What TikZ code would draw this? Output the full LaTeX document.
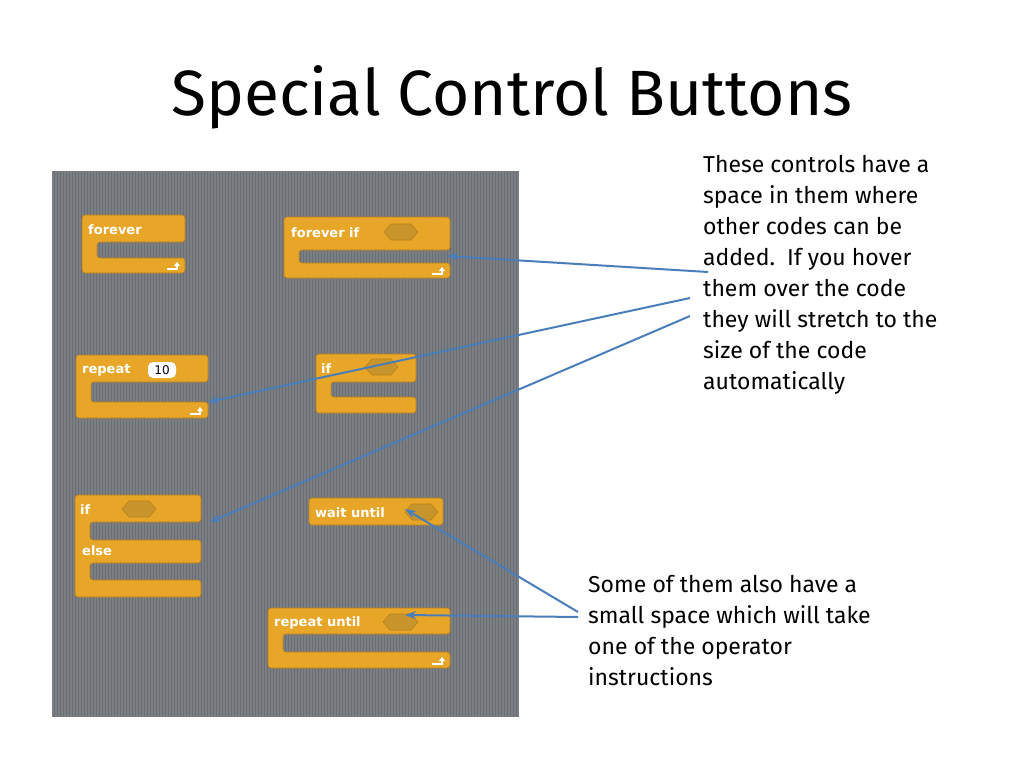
\documentclass[tikz,border=0pt]{standalone}
\usepackage{fontspec}
\setmainfont{Fira Sans}
\newfontfamily\blkfont{DejaVu Sans}
\usetikzlibrary{arrows.meta}
\definecolor{blk}{HTML}{E8A628}
\definecolor{blkd}{HTML}{B8801C}
\definecolor{hexc}{HTML}{C7952C}
\definecolor{panel}{HTML}{7B7E82}
\definecolor{stripe}{HTML}{6A6D71}
\definecolor{arr}{HTML}{4A7EBB}
\tikzset{
  blockfill/.style={fill=blk,draw=blkd,line width=0.6pt,rounded corners=3pt},
  btxt/.style={font=\blkfont\bfseries\fontsize{13}{13}\selectfont,text=white,anchor=west,inner sep=0pt},
  hexs/.style={fill=hexc,draw=blkd,line width=0.6pt},
  para/.style={font=\fontsize{23}{31}\selectfont,align=left,anchor=north west,inner sep=0pt},
  pointer/.style={draw=arr,line width=2pt,-{Stealth[length=11pt,width=8pt]}}
}
\newcommand{\cblk}[6]{% l t r ih gap bh
  \path[blockfill] (#1,#2) -- (#3,#2) -- (#3,#2+#4) -- (#1+15,#2+#4) -- (#1+15,#2+#4+#5) -- (#3,#2+#4+#5) -- (#3,#2+#4+#5+#6) -- (#1,#2+#4+#5+#6) -- cycle;}
\newcommand{\hexg}[3]{% x-left, y-center, width
  \path[hexs] (#1,#2) -- (#1+7,#2-8) -- (#1+#3-7,#2-8) -- (#1+#3,#2) -- (#1+#3-7,#2+8) -- (#1+7,#2+8) -- cycle;}
\newcommand{\loopar}[2]{% right x, bottom y
  \draw[white,line width=2pt,-{Triangle[length=4pt,width=6pt]}] (#1-18,#2-4) -- (#1-8,#2-4) -- (#1-8,#2-11);}
\begin{document}
\begin{tikzpicture}[x=1pt,y=-1pt]
\useasboundingbox (0,0) rectangle (1024,768);
\fill[white] (0,0) rectangle (1024,768);
% panel
\fill[panel] (52,171) rectangle (519,717);
\foreach \i in {0,...,154} {\draw[stripe,line width=0.8pt] (54+3*\i,171) -- (54+3*\i,717);}
% title
\node (title) at (512,97) {\fontsize{64}{70}\selectfont Special Control Buttons};
% forever
\cblk{82}{215}{185}{27}{16}{15}
\node[btxt] (t1) at (88,230) {forever};
\loopar{185}{273}
% forever if
\cblk{284}{217}{450}{33}{13}{15}
\node[btxt] (t2) at (291,233) {forever if};
\hexg{384}{232}{34}
\loopar{450}{278}
% repeat 10
\cblk{76}{355}{208}{27}{20}{16}
\node[btxt] (t3) at (82,370) {repeat};
\node[fill=white,rounded corners=5pt,minimum width=28pt,minimum height=16pt,inner sep=0pt,font=\blkfont\fontsize{12}{12}\selectfont] (ten) at (162,370) {10};
\loopar{208}{418}
% if
\cblk{316}{354}{416}{28}{15}{16}
\node[btxt] (t4) at (321,369) {if};
\hexg{365}{367}{33}
% if else
\path[blockfill] (75,495) -- (201,495) -- (201,522) -- (90,522) -- (90,540) -- (201,540) -- (201,563) -- (90,563) -- (90,580) -- (201,580) -- (201,597) -- (75,597) -- cycle;
\node[btxt] (t5) at (80,510) {if};
\hexg{122}{509}{34}
\node[btxt] (t6) at (82,551) {else};
% wait until
\path[blockfill] (309,498) rectangle (443,525);
\node[btxt] (t7) at (315,513) {wait until};
\hexg{405}{512}{33}
% repeat until
\cblk{268}{608}{450}{26}{18}{16}
\node[btxt] (t8) at (274,623) {repeat until};
\hexg{383}{622}{35}
\loopar{450}{668}
% texts
\node[para] (txtA) at (703,155) {These controls have a\\space in them where\\other codes can be\\added.\ \ If you hover\\them over the code\\they will stretch to the\\size of the code\\automatically};
\node[para] (txtB) at (588,575) {Some of them also have a\\small space which will take\\one of the operator\\instructions};
% arrows
\coordinate (s1) at (708,272); \coordinate (e1) at (447,256);
\coordinate (s2) at (690,298); \coordinate (e2) at (208,402);
\coordinate (s3) at (690,316); \coordinate (e3) at (210,522);
\coordinate (s4) at (578,612); \coordinate (e4) at (405,509);
\coordinate (s5) at (578,617); \coordinate (e5) at (405,615);
\draw[pointer] (s1) -- (e1);
\draw[pointer] (s2) -- (e2);
\draw[pointer] (s3) -- (e3);
\draw[pointer] (s4) -- (e4);
\draw[pointer] (s5) -- (e5);
\end{tikzpicture}
\end{document}
